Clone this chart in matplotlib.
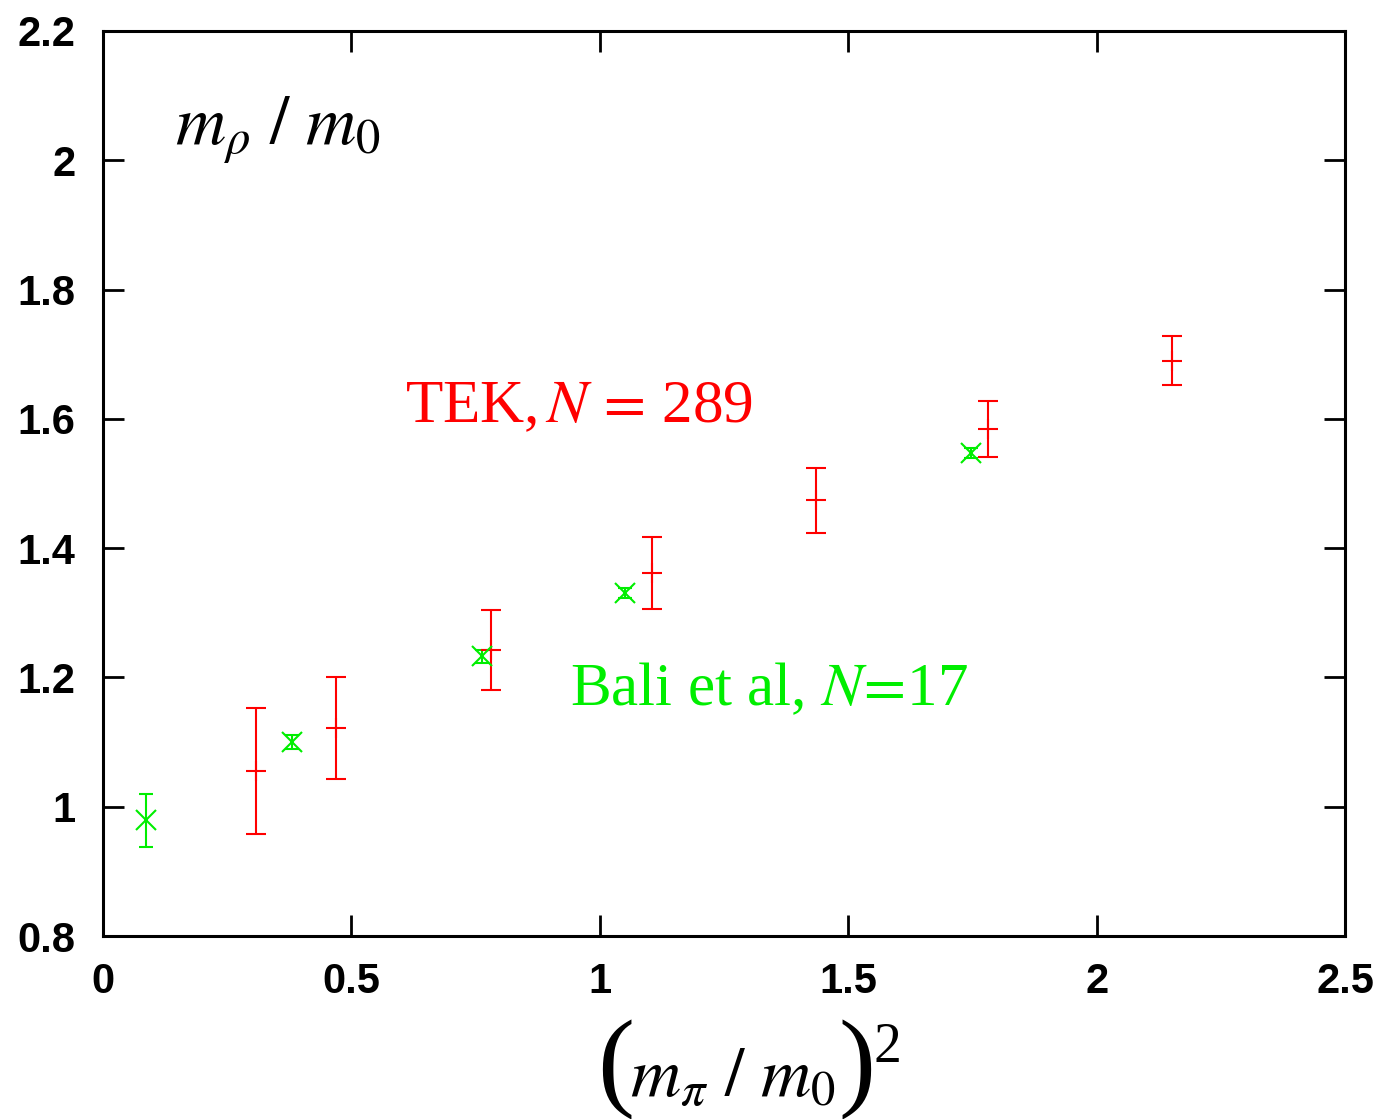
import numpy as np
import matplotlib
matplotlib.use("Agg")
import matplotlib.pyplot as plt

plt.rcParams['mathtext.fontset'] = 'stix'
plt.rcParams['font.family'] = ['Liberation Sans', 'DejaVu Sans']

# TEK, N = 289
tek_x = [0.308, 0.469, 0.781, 1.105, 1.435, 1.781, 2.152]
tek_y = [1.055, 1.122, 1.242, 1.362, 1.474, 1.584, 1.690]
tek_err = [0.097, 0.079, 0.062, 0.056, 0.050, 0.043, 0.038]

# Bali et al, N = 17
bali_x = [0.087, 0.380, 0.763, 1.051, 1.747]
bali_y = [0.979, 1.100, 1.233, 1.331, 1.547]
bali_yerr = [0.041, 0.011, 0.010, 0.008, 0.008]

xticks = [0, 0.5, 1, 1.5, 2, 2.5]
yticks = [0.8, 1, 1.2, 1.4, 1.6, 1.8, 2, 2.2]

fig = plt.figure(figsize=(13.87, 11.19), dpi=100)
ax = fig.add_axes([0.0743, 0.1635, 0.8954, 0.8088])

red = '#ff0000'
green = '#00ee00'

ax.errorbar(tek_x, tek_y, yerr=tek_err, fmt='+', color=red, ms=15, mew=1.5,
            elinewidth=1.5, capsize=7.5, capthick=1.5)
ax.errorbar(bali_x, bali_y, yerr=bali_yerr, fmt='x', color=green,
            ms=15, mew=1.5, elinewidth=1.5, capsize=4.7, capthick=1.5)

ax.set_xlim(0, 2.5)
ax.set_ylim(0.8, 2.2)
ax.set_xticks(xticks)
ax.set_yticks(yticks)
ax.set_xticklabels(['0', '0.5', '1', '1.5', '2', '2.5'])
ax.set_yticklabels(['0.8', '1', '1.2', '1.4', '1.6', '1.8', '2', '2.2'])
ax.tick_params(direction='in', length=15, width=2, top=True, right=True,
               labelsize=30)
ax.tick_params(axis='x', pad=19)
ax.tick_params(axis='y', pad=20)
for lab in ax.get_xticklabels() + ax.get_yticklabels():
    lab.set_fontweight('bold')
for sp in ax.spines.values():
    sp.set_linewidth(2.2)

ax.text(0.145, 2.024, r'$m_\rho\ /\ m_0$', fontsize=50, color='black')
ax.text(0.608, 1.595, r'TEK,$\,N\,=\,$289', fontsize=44, color=red, family='Liberation Serif')
ax.text(0.94, 1.157, r'Bali et al, $N\!=\!$17', fontsize=44, color=green, family='Liberation Serif')

# x label with tall parentheses
base = 1 - 1097 / 1119
fig.text(597 / 1387, base, '(', fontsize=80, family='Liberation Serif', va='baseline')
fig.text(733 / 1387, base, r'$m_\pi\ /\ m_0$', fontsize=50, ha='center', va='baseline')
fig.text(838 / 1387, base, ')', fontsize=80, family='Liberation Serif', va='baseline')
fig.text(874 / 1387, 1 - 1062 / 1119, '2', fontsize=40, family='Liberation Serif', va='baseline')

fig.savefig('out.png', dpi=100)
